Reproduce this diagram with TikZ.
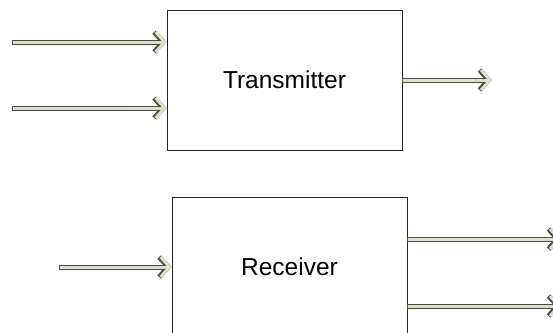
\documentclass[tikz,border=0pt]{standalone}
\usepackage{fontspec}
\setmainfont{Liberation Sans}
\usetikzlibrary{positioning,arrows.meta}
\definecolor{sgBeige}{HTML}{DEE0C8}
\definecolor{sgGray}{HTML}{4A4A4A}
\definecolor{sgWhite}{HTML}{FFFFFF}
\tikzset{
  sg-box/.style={
    draw=black!85, line width=0.8pt, fill=sgWhite,
    font=\fontsize{24.5bp}{29bp}\selectfont, inner sep=0pt,
    minimum width=235bp, minimum height=140bp
  },
  sg-head/.style={-{Straight Barb[length=9bp, width=20bp]}},
  sg-flow/.style={sg-head, draw=sgBeige, line width=3bp, shorten <=1bp,
    preaction={draw=sgGray, line width=5bp, shorten <=0bp, sg-head}}
}

\begin{document}
\begin{tikzpicture}[x=1bp,y=-1bp]
\useasboundingbox (0,0) rectangle (553,332);
\clip (0,0) rectangle (553,332);
\node[sg-box] (tx) at (284.5,80) {Transmitter};
\node[sg-box] (rx) at (289.5,267) {Receiver};

% Free ends
\coordinate (txin1) at (12,42);
\coordinate (txin2) at (12,108);
\coordinate (txout) at (492,80);
\coordinate (rxin) at (59,267);
\coordinate (rxout1) at (561,239);
\coordinate (rxout2) at (561,306);

% Signals
\draw[sg-flow] (txin1) -- (txin1 -| tx.west);
\draw[sg-flow] (txin2) -- (txin2 -| tx.west);
\draw[sg-flow] (tx.east) -- (txout);
\draw[sg-flow] (rxin) -- (rxin -| rx.west);
\draw[sg-flow] (rxout1 -| rx.east) -- (rxout1);
\draw[sg-flow] (rxout2 -| rx.east) -- (rxout2);
\end{tikzpicture}
\end{document}
